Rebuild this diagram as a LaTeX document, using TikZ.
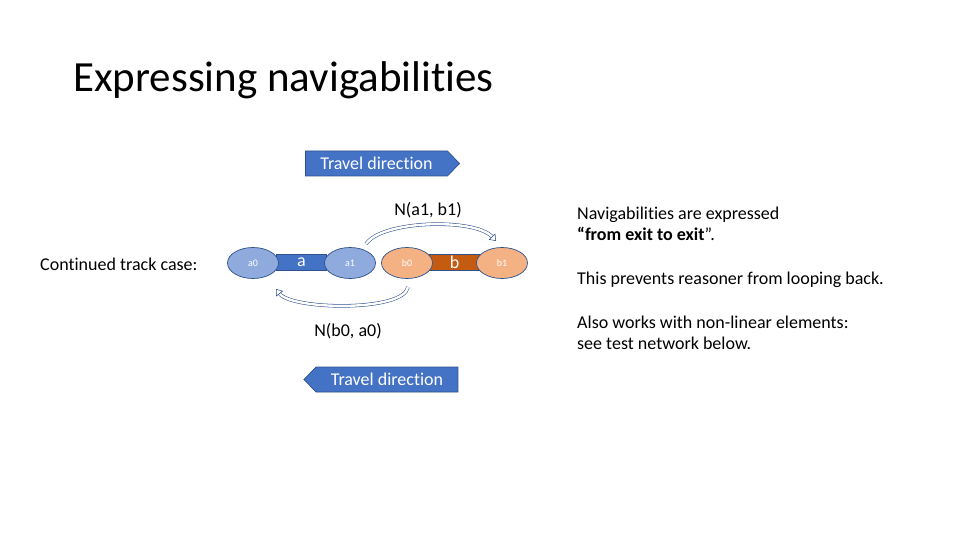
\documentclass[tikz,border=0pt]{standalone}
\usepackage{fontspec}
\setmainfont[Ligatures=NoCommon]{Carlito}
\usetikzlibrary{shapes.geometric,shapes.symbols,arrows.meta}
\definecolor{navy}{HTML}{2F528F}
\definecolor{blueA}{HTML}{4472C4}
\definecolor{lightA}{HTML}{8FAADC}
\definecolor{orangeB}{HTML}{C55A11}
\definecolor{lightB}{HTML}{F4B183}
\tikzset{
  endpoint/.style={ellipse, draw=navy, line width=0.7pt, minimum width=51pt,
    minimum height=31pt, inner sep=0pt, text=white,
    font=\fontsize{10}{11}\selectfont},
  segbar/.style={rectangle, draw=navy, line width=0.7pt, minimum height=16pt,
    inner sep=0pt, text=white, font=\fontsize{18}{20}\selectfont},
  travel/.style={signal, signal pointer angle=92, draw=navy, line width=0.7pt,
    fill=blueA, text=white, minimum height=25pt, inner xsep=6pt,
    font=\fontsize{18}{20}\selectfont},
  bodytext/.style={anchor=base west, inner sep=0pt, font=\fontsize{18}{22}\selectfont},
  navarrow/.style={draw=navy, line width=0.55pt, double=white, double distance=2.4pt,
    -{Triangle[open, length=6pt, width=9pt]}}
}
\begin{document}
\begin{tikzpicture}[x=1pt, y=-1pt]
\useasboundingbox (0,0) rectangle (960,540);
\fill[white] (0,0) rectangle (960,540);

% title
\node[anchor=base west, inner sep=0pt, font=\fontsize{43}{50}\selectfont] (title) at (73,92) {Expressing navigabilities};

% travel direction banners
\node[travel, signal to=east, signal from=nowhere, minimum width=154pt] (tdE) at (376.5,163.5) {Travel direction};
\node[travel, signal to=west, signal from=nowhere, minimum width=154pt] (tdW) at (387,379.5) {Travel direction};

% track segments (bars behind the end points)
\node[segbar, fill=blueA, minimum width=50pt] (barA) at (301.5,262.5) {a};
\node[segbar, fill=orangeB, minimum width=50pt] (barB) at (454.5,262.5) {b};
\node[endpoint, fill=lightA] (a0) at (253,263) {a0};
\node[endpoint, fill=lightA] (a1) at (350,263) {a1};
\node[endpoint, fill=lightB] (b0) at (407,263) {b0};
\node[endpoint, fill=lightB] (b1) at (502,263) {b1};

% navigabilities
\coordinate (nAs) at (366,244);
\coordinate (nAe) at (496,241);
\coordinate (nBs) at (408,287);
\coordinate (nBe) at (276,289);
\draw[navarrow] (nAs) .. controls (382,220) and (475,218) .. (nAe);
\draw[navarrow] (nBs) .. controls (404,312) and (292,310) .. (nBe);
\node[font=\fontsize{18}{22}\selectfont] (labA) at (428,210) {N(a1, b1)};
\node[font=\fontsize{18}{22}\selectfont] (labB) at (348,331) {N(b0, a0)};

% left label
\node[bodytext] (caseT) at (40,270) {Continued track case:};

% notes on the right
\node[bodytext] (n1) at (577,219) {Navigabilities are expressed};
\node[bodytext] (n2) at (577,240) {\textbf{“from exit to exit}”.};
\node[bodytext] (n3) at (577,284) {This prevents reasoner from looping back.};
\node[bodytext] (n4) at (577,328) {Also works with non-linear elements:};
\node[bodytext] (n5) at (577,349) {see test network below.};
\end{tikzpicture}
\end{document}
